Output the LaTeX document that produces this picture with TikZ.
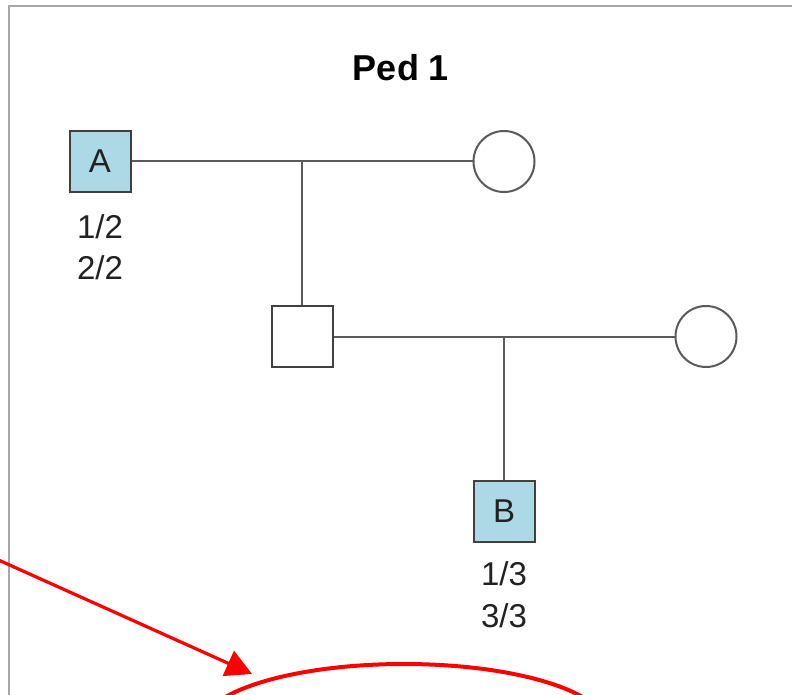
\documentclass[tikz,border=0pt]{standalone}
\usepackage{fontspec}
\setmainfont{Liberation Sans}
\usetikzlibrary{arrows.meta,shapes.geometric}
\definecolor{boxblue}{HTML}{ADD8E6}
\definecolor{boxedge}{HTML}{404040}
\definecolor{linegray}{HTML}{5A5A5A}
\definecolor{framegray}{HTML}{A6A6A6}
\definecolor{txt}{HTML}{222222}
\definecolor{redmark}{HTML}{FF0000}
\tikzset{
  male/.style={rectangle, draw=boxedge, line width=2pt, minimum size=61pt, inner sep=0pt,
               font=\fontsize{33}{33}\selectfont, text=txt},
  affected/.style={male, fill=boxblue},
  unaffected/.style={male, fill=white},
  female/.style={circle, draw=linegray, line width=2pt, minimum size=61pt, inner sep=0pt, fill=white},
  geno/.style={anchor=base, inner sep=0pt, font=\fontsize{33}{33}\selectfont, text=txt},
  pedline/.style={draw=linegray, line width=2pt},
  redarrow/.style={draw=redmark, line width=3.2pt, -{Triangle[length=26pt,width=27pt]}},
  redring/.style={ellipse, draw=redmark, line width=4pt, minimum width=406pt, minimum height=126pt}
}
\begin{document}
\begin{tikzpicture}[x=1pt,y=-1pt]
\useasboundingbox (0,0) rectangle (792,695);
\clip (0,0) rectangle (792,695);
\fill[white] (0,0) rectangle (792,695);
% frame
\draw[framegray, line width=2pt] (9,900) -- (9,6) -- (900,6);
% title
\node[anchor=base, inner sep=0pt, font=\fontsize{36}{36}\selectfont\bfseries] (title) at (401,81) {Ped 1};
% individuals
\node[affected] (A) at (100,161.5) {A};
\node[female] (F1) at (504,161.5) {};
\node[unaffected] (S) at (302,336.5) {};
\node[female] (F2) at (706,336.5) {};
\node[affected] (B) at (504,511) {B};
% genotypes
\node[geno] (a1) at (100,238) {1/2};
\node[geno] (a2) at (100,279) {2/2};
\node[geno] (b1) at (504,585) {1/3};
\node[geno] (b2) at (504,627) {3/3};
% lines
\coordinate (m1) at (302,161.5);
\coordinate (m2) at (504,336.5);
\draw[pedline] (A.east) -- (F1.west);
\draw[pedline] (m1) -- (S.north);
\draw[pedline] (S.east) -- (F2.west);
\draw[pedline] (m2) -- (B.north);
% red annotation
\node[redring] (ring) at (404,727) {};
\coordinate (rstart) at (-6,558);
\coordinate (rtip) at (252,674);
\draw[redarrow] (rstart) -- (rtip);
\end{tikzpicture}
\end{document}
